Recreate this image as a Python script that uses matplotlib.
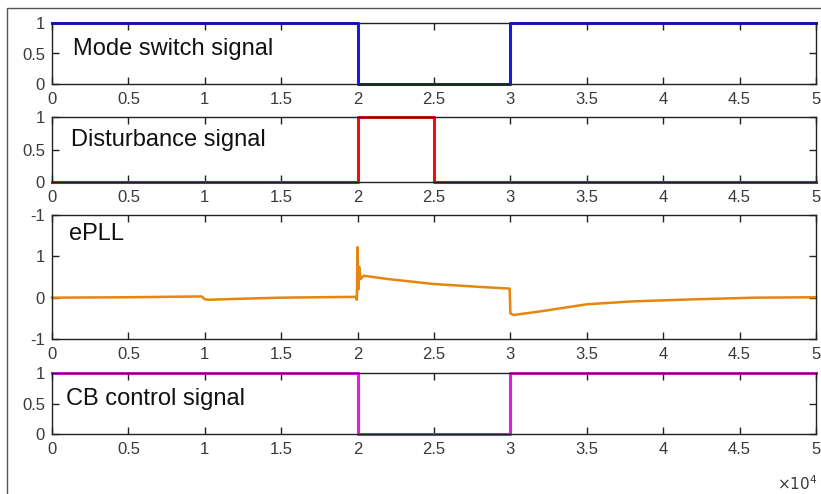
import matplotlib
matplotlib.use("Agg")
import matplotlib.pyplot as plt
from matplotlib.patches import Rectangle

plt.rcParams['font.family'] = ['Liberation Sans', 'DejaVu Sans']

# ---- data ----
mode_t = [0, 20000, 20000, 30000, 30000, 50000]
mode_v = [1, 1, 0, 0, 1, 1]

dist_t = [0, 20000, 20000, 25000, 25000, 50000]
dist_v = [0, 0, 1, 1, 0, 0]

epll_t = [0, 5000, 9800, 10000, 10300, 12000, 15000, 19900, 19950, 20000, 20050, 20100,
          20200, 20400, 22000, 25000, 28000, 29950, 30000, 30200, 32000, 35000, 38000,
          42000, 46000, 50000]
epll_v = [0.0, 0.01, 0.03, -0.04, -0.05, -0.03, 0.0, 0.02, -0.05, 1.22, 0.2, 0.75,
          0.45, 0.53, 0.45, 0.33, 0.26, 0.22, -0.38, -0.42, -0.33, -0.16, -0.09,
          -0.04, 0.0, 0.01]

cb_t = [0, 20000, 20000, 30000, 30000, 50000]
cb_v = [1, 1, 0, 0, 1, 1]

x_ticks = [0, 5000, 10000, 15000, 20000, 25000, 30000, 35000, 40000, 45000, 50000]
x_labels = ['0', '0.5', '1', '1.5', '2', '2.5', '3', '3.5', '4', '4.5', '5']
sig_yticks = [0, 0.5, 1]
sig_ylabels = ['0', '0.5', '1']
epll_yticks = [-1, 0, 1, 2]
epll_ylabels = ['-1', '0', '1', '-1']

W, H = 821, 494
fig = plt.figure(figsize=(W / 100, H / 100), dpi=100)

def ax_px(top, bottom, left=52, right=816):
    return fig.add_axes([left / W, 1 - bottom / H, (right - left) / W, (bottom - top) / H])

tick_color = '#3a3a3a'

def style(ax, yticks, ylabels, ylim):
    ax.set_xlim(0, 50000)
    ax.set_ylim(*ylim)
    ax.set_xticks(x_ticks)
    ax.set_xticklabels(x_labels)
    ax.set_yticks(yticks)
    ax.set_yticklabels(ylabels)
    ax.tick_params(direction='in', top=True, right=True, length=5, width=1.0,
                   labelsize=12, labelcolor=tick_color, color='#222222', pad=5)
    ax.tick_params(axis='x', pad=6)
    for s in ax.spines.values():
        s.set_linewidth(1.0)
        s.set_color('#222222')

ax1 = ax_px(23, 84)
ax1.plot(mode_t, mode_v, color='#1a1ae0', lw=2.2, clip_on=False)
style(ax1, sig_yticks, sig_ylabels, (0, 1))
ax1.text(0.028, 0.58, 'Mode switch signal', transform=ax1.transAxes, fontsize=17,
         va='center', ha='left', color='#111111')

ax2 = ax_px(117, 182)
ax2.plot(dist_t, dist_v, color='#ee1010', lw=2.2, clip_on=False)
style(ax2, sig_yticks, sig_ylabels, (0, 1))
ax2.text(0.025, 0.65, 'Disturbance signal', transform=ax2.transAxes, fontsize=17,
         va='center', ha='left', color='#111111')

ax3 = ax_px(215, 339)
ax3.plot(epll_t, epll_v, color='#e8850f', lw=1.8, clip_on=False)
style(ax3, epll_yticks, epll_ylabels, (-1, 2))
ax3.text(0.022, 0.85, 'ePLL', transform=ax3.transAxes, fontsize=17,
         va='center', ha='left', color='#111111')

ax4 = ax_px(373, 434)
ax4.plot(cb_t, cb_v, color='#e020e0', lw=2.2, clip_on=False)
style(ax4, sig_yticks, sig_ylabels, (0, 1))
ax4.text(0.018, 0.58, 'CB control signal', transform=ax4.transAxes, fontsize=17,
         va='center', ha='left', color='#111111')

fig.text(817 / W, 1 - 484 / H, r'$\times10^{4}$', fontsize=11, color=tick_color,
         ha='right', va='center')

fig.patches.append(Rectangle((7 / W, -0.05), 1.1, 1 - 8 / H + 0.05,
                             transform=fig.transFigure, fill=False,
                             edgecolor='#555555', lw=1.0))

fig.savefig('out.png', dpi=100)
